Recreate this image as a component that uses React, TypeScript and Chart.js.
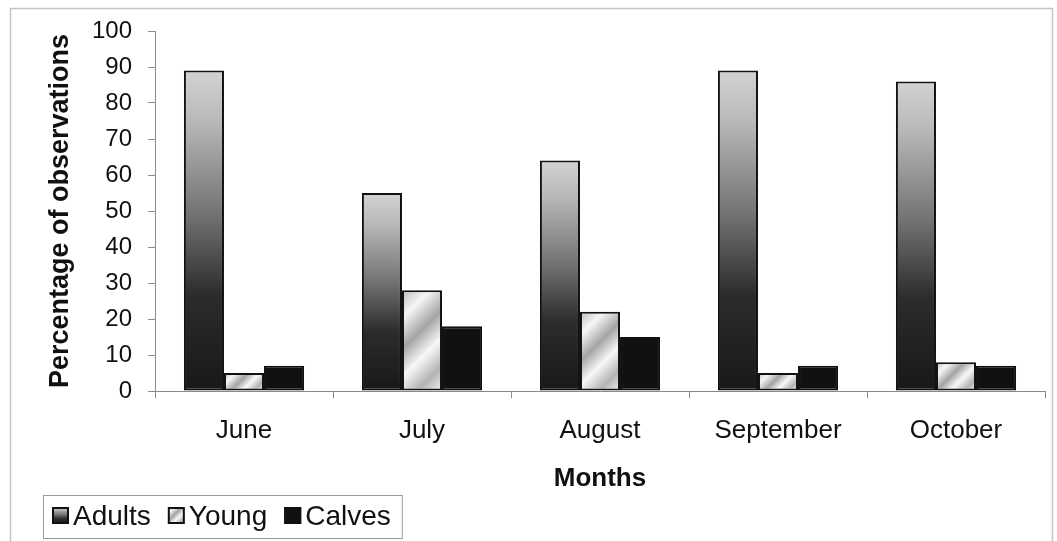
import React, { useEffect, useRef } from "react";
import { Chart, registerables } from "chart.js";

Chart.register(...registerables);

const months = ["June", "July", "August", "September", "October"];
const adults = [89, 55, 64, 89, 86];
const young = [5, 28, 22, 5, 8];
const calves = [7, 18, 15, 7, 7];
const seriesNames = ["Adults", "Young", "Calves"];
const yTitle = "Percentage of observations";
const xTitle = "Months";

const FONT = 'Arial, "Liberation Sans", sans-serif';
const CAT_PCT = 0.675;

function adultsGradient(ctx: CanvasRenderingContext2D, top: number, base: number) {
  const g = ctx.createLinearGradient(0, top, 0, base);
  g.addColorStop(0, "#d2d2d2");
  g.addColorStop(0.15, "#bababa");
  g.addColorStop(0.45, "#727272");
  g.addColorStop(0.7, "#2c2c2c");
  g.addColorStop(1, "#181818");
  return g;
}

function youngGradient(ctx: CanvasRenderingContext2D, x0: number, y0: number, w: number, h: number) {
  const L = (w + h) / 2;
  const g = ctx.createLinearGradient(x0, y0, x0 + L, y0 + L);
  g.addColorStop(0, "#bcbcbc");
  g.addColorStop(0.2, "#f6f6f6");
  g.addColorStop(0.42, "#a4a4a4");
  g.addColorStop(0.62, "#f8f8f8");
  g.addColorStop(0.82, "#b4b4b4");
  g.addColorStop(1, "#f2f2f2");
  return g;
}

function barWidth(chart: any) {
  return (chart.scales.x.width / months.length) * CAT_PCT / 3;
}

const framePlugin = {
  id: "frame",
  beforeDraw(chart: any) {
    const ctx = chart.ctx as CanvasRenderingContext2D;
    ctx.save();
    ctx.fillStyle = "#ffffff";
    ctx.fillRect(0, 0, chart.width, chart.height);
    ctx.strokeStyle = "#c4c4c4";
    ctx.lineWidth = 1.5;
    ctx.beginPath();
    ctx.moveTo(10.5, chart.height);
    ctx.lineTo(10.5, 8.5);
    ctx.lineTo(1052.5, 8.5);
    ctx.lineTo(1052.5, chart.height);
    ctx.stroke();
    ctx.restore();
  },
  afterDraw(chart: any) {
    const ctx = chart.ctx as CanvasRenderingContext2D;
    ctx.save();
    ctx.font = `28px ${FONT}`;
    const box = 17;
    const boxY = 507;
    const baseY = 525;
    const gap = 17;
    let x = 52;
    chart.data.datasets.forEach((ds: any, i: number) => {
      let fill: any = "#111";
      if (i === 0) fill = adultsGradient(ctx, boxY, boxY + box);
      if (i === 1) fill = youngGradient(ctx, x, boxY, box, box);
      ctx.fillStyle = fill;
      ctx.fillRect(x, boxY, box, box);
      ctx.strokeStyle = "#111";
      ctx.lineWidth = 2;
      ctx.strokeRect(x + 1, boxY + 1, box - 2, box - 2);
      ctx.fillStyle = "#111";
      ctx.textBaseline = "alphabetic";
      ctx.textAlign = "left";
      ctx.fillText(ds.label, x + box + 4, baseY);
      x += box + 4 + ctx.measureText(ds.label).width + gap;
    });
    const right = x - gap + 11;
    ctx.strokeStyle = "#9a9a9a";
    ctx.lineWidth = 1;
    ctx.strokeRect(43.5, 495.5, right - 43, 43);
    ctx.restore();
  },
};

export default function App() {
  const ref = useRef<HTMLCanvasElement | null>(null);
  useEffect(() => {
    if (!ref.current) return;
    const chart = new Chart(ref.current, {
      type: "bar",
      data: {
        labels: months,
        datasets: [
          {
            label: seriesNames[0],
            data: adults,
            backgroundColor: (c: any) => {
              const ch = c.chart;
              if (!ch.chartArea || c.type !== "data") return "#777";
              const top = ch.scales.y.getPixelForValue(c.parsed.y);
              const base = ch.scales.y.getPixelForValue(0);
              return adultsGradient(ch.ctx, top, base);
            },
          },
          {
            label: seriesNames[1],
            data: young,
            backgroundColor: (c: any) => {
              const ch = c.chart;
              if (!ch.chartArea || c.type !== "data") return "#ddd";
              const top = ch.scales.y.getPixelForValue(c.parsed.y);
              const base = ch.scales.y.getPixelForValue(0);
              const w = barWidth(ch);
              const cx = ch.scales.x.getPixelForValue(c.dataIndex);
              return youngGradient(ch.ctx, cx - w / 2, top, w, base - top);
            },
          },
          {
            label: seriesNames[2],
            data: calves,
            backgroundColor: "#111111",
          },
        ],
      },
      options: {
        animation: false,
        responsive: false,
        maintainAspectRatio: false,
        datasets: {
          bar: {
            categoryPercentage: CAT_PCT,
            barPercentage: 1,
            borderColor: "#111111",
            borderWidth: 2,
            borderSkipped: false,
          },
        },
        layout: { padding: { left: 40, right: 12, top: 31, bottom: 47 } },
        plugins: {
          legend: { display: false },
          tooltip: { enabled: false },
        },
        scales: {
          x: {
            grid: {
              display: true,
              drawOnChartArea: false,
              offset: true,
              tickLength: 7,
              color: "#8a8a8a",
              tickColor: "#8a8a8a",
            },
            border: { display: true, color: "#8a8a8a", width: 1 },
            ticks: { font: { family: FONT, size: 26 }, color: "#111", padding: 17 },
            title: {
              display: true,
              text: xTitle,
              font: { family: FONT, size: 26, weight: "bold" },
              color: "#111",
              padding: { top: 4, bottom: 0 },
            },
            afterFit: (s: any) => {
              s.height = 103;
            },
          },
          y: {
            min: 0,
            max: 100,
            ticks: { stepSize: 10, font: { family: FONT, size: 24 }, color: "#111", padding: 16 },
            grid: {
              display: true,
              drawOnChartArea: false,
              tickLength: 7,
              color: "#8a8a8a",
              tickColor: "#8a8a8a",
            },
            border: { display: true, color: "#8a8a8a", width: 1 },
            title: {
              display: true,
              text: yTitle,
              font: { family: FONT, size: 27, weight: "bold" },
              color: "#111",
              padding: { top: 4, bottom: 4 },
            },
            afterFit: (s: any) => {
              s.width = 115;
            },
          },
        },
      },
      plugins: [framePlugin],
    } as any);
    return () => chart.destroy();
  }, []);
  return (
    <div style={{ position: "fixed", left: 0, top: 0, width: 1057, height: 541 }}>
      <canvas ref={ref} width={1057} height={541} style={{ width: 1057, height: 541, display: "block" }} />
    </div>
  );
}
